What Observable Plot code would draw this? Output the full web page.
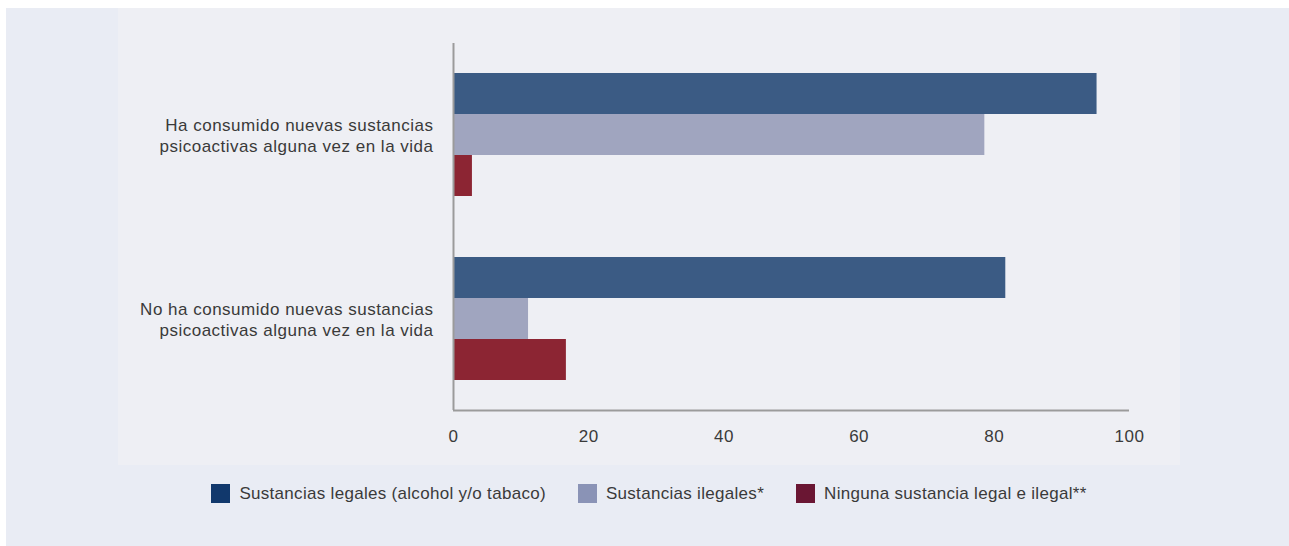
<!DOCTYPE html>
<html>
<head>
<meta charset="utf-8">
<script src="https://cdn.jsdelivr.net/npm/d3@7"></script>
<script src="https://cdn.jsdelivr.net/npm/@observablehq/plot@0.6"></script>
<style>
  html, body { margin: 0; padding: 0; background: #ffffff; }
  #outer { position: absolute; left: 6px; top: 8px; width: 1283px; height: 538px; background: #e9ecf4; }
  #panel { position: absolute; left: 118px; top: 8px; width: 1062px; height: 457px; background: #eeeff4; }
  #legend { position: absolute; left: 118px; top: 484px; width: 1062px; height: 19px;
            display: flex; justify-content: center; align-items: center;
            font-family: "Liberation Sans", Arial, sans-serif; font-size: 17px; letter-spacing: 0.3px; color: #3a3a3a; }
  .item { display: flex; align-items: center; margin: 0 16px; white-space: nowrap; }
  .sw { width: 19px; height: 19px; margin-right: 9px; }
</style>
</head>
<body>
<div id="outer"></div>
<div id="panel"></div>
<div id="legend"></div>
<script>
const categories = [
  "Ha consumido nuevas sustancias\npsicoactivas alguna vez en la vida",
  "No ha consumido nuevas sustancias\npsicoactivas alguna vez en la vida"
];
const series = [
  "Sustancias legales (alcohol y/o tabaco)",
  "Sustancias ilegales*",
  "Ninguna sustancia legal e ilegal**"
];
const legales = [95.2, 81.7];
const ilegales = [78.6, 11.1];
const ninguna = [2.8, 16.7];
const xTicks = [0, 20, 40, 60, 80, 100];
const barColors = ["#3b5b84", "#a0a5bf", "#8c2533"];
const legendColors = ["#11386c", "#8a93b6", "#6a1633"];

const valuesBySeries = [legales, ilegales, ninguna];
const rows = [];
series.forEach((s, i) => categories.forEach((c, j) => rows.push({series: s, si: i, category: c, value: valuesBySeries[i][j]})));

const width = 1062, height = 457, mt = 35, mb = 55;
const pInner = 0.3315, pOuter = 0.163;
const step = (height - mt - mb) / (categories.length - pInner + 2 * pOuter);
const bandwidth = step * (1 - pInner);
const third = bandwidth / series.length;
const axisColor = "#9b9b9b";

const marks = series.map((s, i) => Plot.barX(rows.filter(r => r.si === i), {
  x: "value", y: "category", fill: barColors[i],
  insetTop: i * third, insetBottom: (series.length - 1 - i) * third
}));

const chart = Plot.plot({
  width, height,
  marginTop: mt, marginBottom: mb, marginLeft: 335, marginRight: 51,
  style: {background: "transparent", fontFamily: "Liberation Sans, Arial, sans-serif", fontSize: "17px", color: "#3a3a3a", letterSpacing: "0.5px"},
  x: {domain: [0, 100], label: null},
  y: {domain: categories, paddingInner: pInner, paddingOuter: pOuter, label: null},
  marks: [
    ...marks,
    Plot.axisY({tickSize: 0, tickPadding: 20, lineHeight: 1.2, label: null}),
    Plot.axisX({ticks: xTicks, tickSize: 0, tickPadding: 19, label: null}),
    Plot.ruleY([categories[categories.length - 1]], {y: d => d, x1: 0, x2: 100, dy: bandwidth / 2 + step * pOuter, stroke: axisColor, strokeWidth: 2}),
    Plot.ruleX([0], {stroke: axisColor, strokeWidth: 2})
  ]
});
chart.style.position = "absolute";
chart.style.left = "118px";
chart.style.top = "8px";
document.body.appendChild(chart);

const legend = document.getElementById("legend");
series.forEach((s, i) => {
  const it = document.createElement("div");
  it.className = "item";
  const sw = document.createElement("div");
  sw.className = "sw";
  sw.style.background = legendColors[i];
  const t = document.createElement("span");
  t.textContent = s;
  it.appendChild(sw);
  it.appendChild(t);
  legend.appendChild(it);
});
</script>
</body>
</html>
